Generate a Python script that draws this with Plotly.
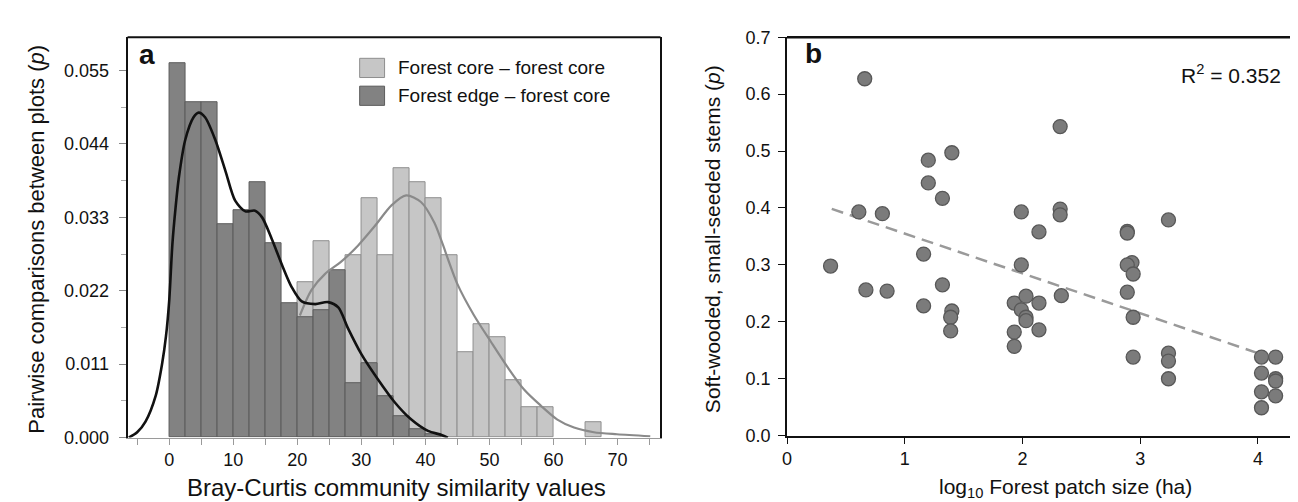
import plotly.graph_objects as go

# ---------------- Panel a data ----------------
BIN_WIDTH = 2.5
edge_core_bin_starts = [0, 2.5, 5, 7.5, 10, 12.5, 15, 17.5, 20, 22.5, 25, 27.5, 30, 32.5, 35, 37.5, 40]
edge_core_values = [0.0561, 0.0502, 0.0502, 0.0320, 0.0341, 0.0382, 0.0292, 0.0202, 0.0181, 0.0191,
                    0.0251, 0.0082, 0.0112, 0.0062, 0.0032, 0.0013, 0.0005]

core_core_bin_starts = [20, 22.5, 25, 27.5, 30, 32.5, 35, 37.5, 40, 42.5, 45, 47.5, 50, 52.5, 55, 57.5, 65]
core_core_values = [0.0233, 0.0295, 0.0245, 0.0274, 0.0358, 0.0274, 0.0403, 0.0382, 0.0358, 0.0273,
                    0.0128, 0.0170, 0.0150, 0.0086, 0.0045, 0.0045, 0.0023]

edge_kde_x = [-6.3, -5, -3.7, -2.1, -1.1, -0.5, 0.0, 0.5, 1.0, 1.5, 2.5, 3.8, 4.6, 5.6, 7.2, 8.8,
              10.3, 11.9, 13.4, 14.5, 16.0, 17.6, 19.1, 20.7, 22.8, 24.8, 26.4, 27.9, 30.0, 32.6,
              35.2, 37.8, 40.4, 42.5, 43.5]
edge_kde_y = [0.0, 0.0008, 0.0024, 0.0063, 0.0111, 0.0152, 0.0205, 0.0290, 0.0345, 0.0389, 0.0446,
              0.0480, 0.0487, 0.0480, 0.0446, 0.0399, 0.0355, 0.0339, 0.0340, 0.0330, 0.0298,
              0.0259, 0.0226, 0.0204, 0.0200, 0.0203, 0.0195, 0.0164, 0.0125, 0.0087, 0.0053,
              0.0027, 0.0010, 0.0004, 0.0]

core_kde_x = [20.4, 22.2, 24.3, 26.9, 29.5, 32.1, 34.7, 37.0, 39.3, 41.4, 42.5, 45.0, 47.6, 50.2,
              52.8, 55.4, 58.0, 60.6, 63.2, 66.3, 69.9, 75.1]
core_kde_y = [0.0183, 0.0221, 0.0245, 0.0264, 0.0288, 0.0317, 0.0348, 0.0363, 0.0353, 0.0322,
              0.0295, 0.0230, 0.0183, 0.0144, 0.0106, 0.0072, 0.0048, 0.0027, 0.0015, 0.0008,
              0.0005, 0.0002]

legend_labels = ["Forest core \u2013 forest core", "Forest edge \u2013 forest core"]

# ---------------- Panel b data ----------------
patch_log10 = [0.66, 0.61, 0.81, 1.20, 1.40, 1.20, 1.32, 1.16, 0.37, 0.67, 0.85, 1.16, 1.32, 1.40,
               1.39, 1.39, 2.32, 1.99, 2.32, 2.32, 2.14, 2.89, 2.89, 3.24, 1.99, 2.93, 2.89, 2.94,
               2.89, 2.94, 2.33, 1.93, 2.03, 2.14, 1.99, 2.03, 2.03, 1.93, 2.14, 1.93, 2.94, 3.24,
               3.24, 3.24, 4.03, 4.15, 4.03, 4.15, 4.15, 4.03, 4.15, 4.03]
soft_small = [0.627, 0.393, 0.390, 0.484, 0.497, 0.444, 0.417, 0.319, 0.298, 0.256, 0.254, 0.228,
              0.265, 0.219, 0.208, 0.184, 0.543, 0.393, 0.398, 0.388, 0.358, 0.359, 0.356, 0.379,
              0.300, 0.304, 0.300, 0.284, 0.252, 0.208, 0.246, 0.233, 0.245, 0.233, 0.221, 0.208,
              0.202, 0.182, 0.186, 0.157, 0.138, 0.145, 0.131, 0.100, 0.138, 0.138, 0.110, 0.100,
              0.096, 0.077, 0.070, 0.049]
trend_intercept = 0.425
trend_slope = -0.070
trend_x_extent = [0.38, 4.03]
r2_text = "R<sup>2</sup> = 0.352"

# ---------------- Figure ----------------
W, H = 1298, 502
def px(x):
    return x / W
def py(y):
    return 1 - y / H

FONT = "Arial, Liberation Sans, Helvetica, sans-serif"
fig = go.Figure()

core_x = [s + BIN_WIDTH / 2 for s in core_core_bin_starts]
edge_x = [s + BIN_WIDTH / 2 for s in edge_core_bin_starts]

fig.add_trace(go.Bar(x=core_x, y=core_core_values, width=BIN_WIDTH,
                     marker=dict(color="#c6c6c6", line=dict(color="#8e8e8e", width=1)),
                     xaxis="x", yaxis="y", showlegend=False))
fig.add_trace(go.Bar(x=edge_x, y=edge_core_values, width=BIN_WIDTH,
                     marker=dict(color="#828282", line=dict(color="#5c5c5c", width=1)),
                     xaxis="x", yaxis="y", showlegend=False))
fig.add_trace(go.Scatter(x=core_kde_x, y=core_kde_y, mode="lines",
                         line=dict(color="#8a8a8a", width=2.2, shape="spline", smoothing=0.8),
                         xaxis="x", yaxis="y", showlegend=False))
fig.add_trace(go.Scatter(x=edge_kde_x, y=edge_kde_y, mode="lines",
                         line=dict(color="#111111", width=2.6, shape="spline", smoothing=0.8),
                         xaxis="x", yaxis="y", showlegend=False))

trend_y = [trend_intercept + trend_slope * v for v in trend_x_extent]
fig.add_trace(go.Scatter(x=trend_x_extent, y=trend_y, mode="lines",
                         line=dict(color="#9a9a9a", width=2.5, dash="12px,7px"),
                         xaxis="x2", yaxis="y2", showlegend=False))
fig.add_trace(go.Scatter(x=patch_log10, y=soft_small, mode="markers",
                         marker=dict(size=14, color="#7b7b7b", line=dict(color="#585858", width=1.3)),
                         xaxis="x2", yaxis="y2", showlegend=False))

tickfont = dict(family=FONT, size=18, color="#111")

fig.update_layout(
    width=W, height=H,
    margin=dict(l=0, r=0, t=0, b=0),
    paper_bgcolor="white", plot_bgcolor="white",
    barmode="overlay", bargap=0,
    font=dict(family=FONT, color="#111"),
    xaxis=dict(domain=[px(115), px(650)], range=[-6.5, 76.7], anchor="y",
               showgrid=False, zeroline=False, showline=True, linecolor="#9a9a9a", linewidth=1,
               ticks="outside", ticklen=6, tickcolor="#9a9a9a", dtick=10, tick0=0,
               minor=dict(dtick=5, ticks="outside", ticklen=6, tickcolor="#9a9a9a"),
               tickfont=tickfont),
    yaxis=dict(domain=[py(437), py(20)], range=[0, 0.06], anchor="x",
               showgrid=False, zeroline=False, showline=True, linecolor="#111", linewidth=2,
               mirror=True, ticks="outside", ticklen=7, tickcolor="#888", dtick=0.011, tick0=0,
               tickformat=".3f",
               minor=dict(dtick=0.0055, ticks="outside", ticklen=5, tickcolor="#aaa"),
               tickfont=tickfont, ticklabelstandoff=6),
    xaxis2=dict(domain=[px(777), 1.0], range=[0, 4.408], anchor="y2",
                showgrid=False, zeroline=False, showline=True, linecolor="#111", linewidth=2,
                ticks="outside", ticklen=6, tickcolor="#111", dtick=1, tick0=0,
                tickfont=tickfont),
    yaxis2=dict(domain=[py(435), py(20)], range=[0, 0.7], anchor="x2",
                showgrid=False, zeroline=False, showline=True, linecolor="#111", linewidth=2,
                ticks="outside", ticklen=7, tickcolor="#111", dtick=0.1, tick0=0,
                tickformat=".1f", tickfont=tickfont, ticklabelstandoff=4),
)

shapes = [
    dict(type="line", xref="paper", yref="paper", x0=px(115), x1=px(650), y0=py(20), y1=py(20),
         line=dict(color="#111", width=2)),
    dict(type="line", xref="paper", yref="paper", x0=px(777), x1=1.0, y0=py(20), y1=py(20),
         line=dict(color="#111", width=2.5)),
    dict(type="rect", xref="paper", yref="paper", x0=px(348), x1=px(373), y0=py(62), y1=py(42),
         fillcolor="#c6c6c6", line=dict(color="#8e8e8e", width=1)),
    dict(type="rect", xref="paper", yref="paper", x0=px(348), x1=px(373), y0=py(91), y1=py(71),
         fillcolor="#828282", line=dict(color="#5c5c5c", width=1)),
]

annotations = [
    dict(text="<b>a</b>", x=px(124), y=py(38), xref="paper", yref="paper", xanchor="left",
         yanchor="middle", showarrow=False, font=dict(family=FONT, size=28, color="#111")),
    dict(text="<b>b</b>", x=px(793), y=py(37), xref="paper", yref="paper", xanchor="left",
         yanchor="middle", showarrow=False, font=dict(family=FONT, size=28, color="#111")),
    dict(text=legend_labels[0], x=px(384), y=py(52), xref="paper", yref="paper", xanchor="left",
         yanchor="middle", showarrow=False, font=dict(family=FONT, size=19, color="#111")),
    dict(text=legend_labels[1], x=px(384), y=py(81), xref="paper", yref="paper", xanchor="left",
         yanchor="middle", showarrow=False, font=dict(family=FONT, size=19, color="#111")),
    dict(text="Pairwise comparisons between plots (<i>p</i>)", x=px(24), y=py(230),
         xref="paper", yref="paper", xanchor="center", yanchor="middle", textangle=-90,
         showarrow=False, font=dict(family=FONT, size=22, color="#111")),
    dict(text="Bray-Curtis community similarity values", x=px(385), y=py(489),
         xref="paper", yref="paper", xanchor="center", yanchor="middle",
         showarrow=False, font=dict(family=FONT, size=24, color="#111")),
    dict(text="Soft-wooded, small-seeded stems (<i>p</i>)", x=px(703), y=py(230),
         xref="paper", yref="paper", xanchor="center", yanchor="middle", textangle=-90,
         showarrow=False, font=dict(family=FONT, size=21, color="#111")),
    dict(text="log<sub>10</sub> Forest patch size (ha)", x=px(1057), y=py(489),
         xref="paper", yref="paper", xanchor="center", yanchor="middle",
         showarrow=False, font=dict(family=FONT, size=21, color="#111")),
    dict(text=r2_text, x=px(1223), y=py(58), xref="paper", yref="paper", xanchor="center",
         yanchor="middle", showarrow=False, font=dict(family=FONT, size=21, color="#111")),
]

fig.update_layout(shapes=shapes, annotations=annotations)
fig.write_html("out.html")
